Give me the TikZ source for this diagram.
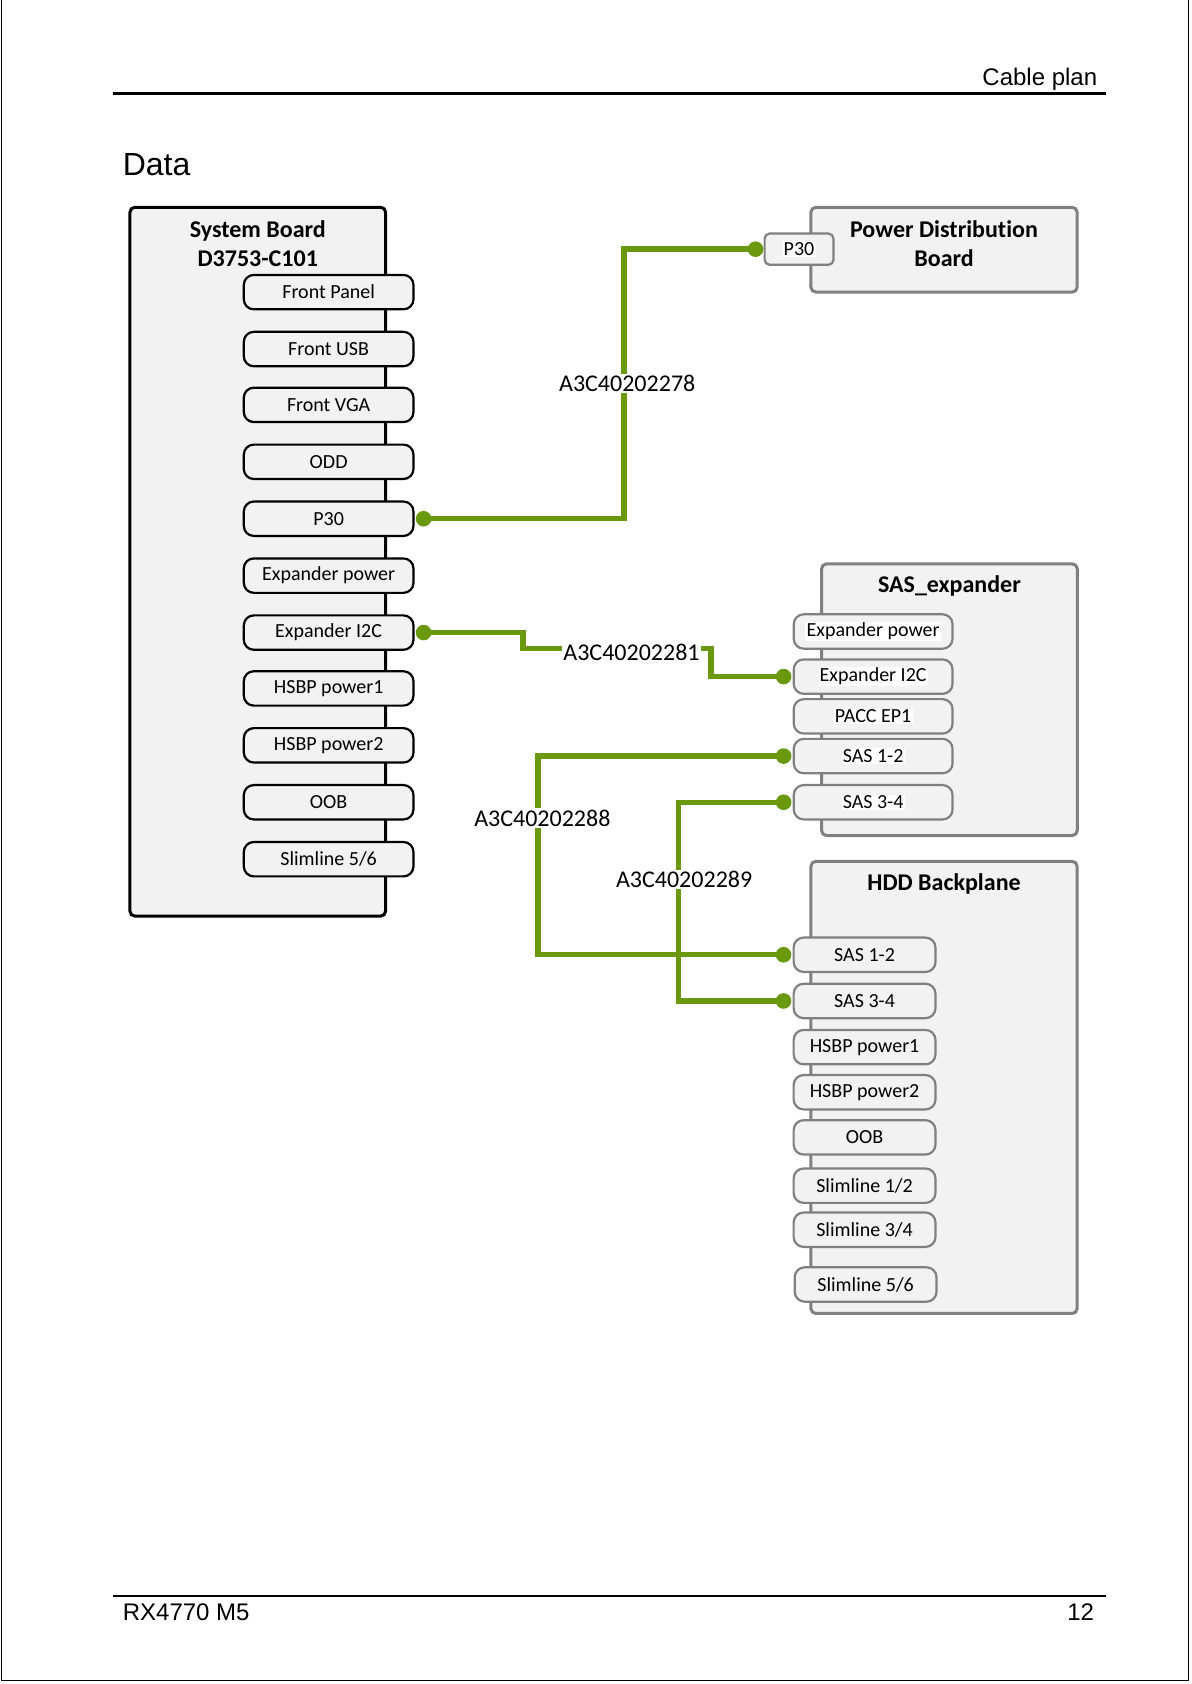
\documentclass[tikz,border=0pt]{standalone}
\usepackage{fontspec}
\setmainfont[Ligatures={NoCommon}]{Carlito}
\newfontfamily\arialf{Liberation Sans}
\usetikzlibrary{calc}
\definecolor{cablegreen}{RGB}{106,153,16}
\definecolor{boxfill}{RGB}{242,242,242}
\definecolor{boxgray}{RGB}{128,128,128}
\newcommand{\wb}[1]{{\setlength{\fboxsep}{0.6pt}\colorbox{white}{#1}}}
\begin{document}
\begin{tikzpicture}[x=0.5368pt,y=-0.5368pt,
  sbbox/.style={draw=black, line width=1.5pt, fill=boxfill, rounded corners=2.5pt, inner sep=0pt},
  rbox/.style={draw=boxgray, line width=1.5pt, fill=boxfill, rounded corners=2.5pt, inner sep=0pt},
  connbase/.style={line width=1.1pt, fill=boxfill, rounded corners=5pt, minimum height=17.2pt, inner sep=0pt, font=\fontsize{10}{11}\selectfont},
  sbconn/.style={connbase, draw=black, minimum width=84.8pt},
  seconn/.style={connbase, draw=boxgray, minimum width=79.4pt},
  hdconn/.style={connbase, draw=boxgray, minimum width=70.9pt},
  boxtitle/.style={font=\bfseries\fontsize{12}{14.5}\selectfont, align=center, inner sep=0pt},
  cable/.style={draw=cablegreen, line width=2.7pt},
  cablelabel/.style={fill=white, inner sep=0.8pt, font=\fontsize{12}{14}\selectfont},
  cabledot/.style={fill=cablegreen},
  pagetext/.style={font=\arialf\fontsize{12}{14}\selectfont, inner sep=0pt}
]
\useasboundingbox (0,0) rectangle (1109,1568);
% page frame
\draw[line width=0.55pt] (1,0) -- (1,1565) -- (1107,1565) -- (1107,0);
% header / footer
\node[pagetext, anchor=base east] (hdr) at (1022,80) {Cable plan};
\draw[line width=1.1pt] (105,87) -- (1030,87);
\node[font=\arialf\fontsize{16}{18}\selectfont, inner sep=0pt, anchor=base west] (data) at (114,163) {Data};
\draw[line width=0.6pt] (105,1486) -- (1030,1486);
\node[pagetext, anchor=base west] (ftl) at (114,1509) {RX4770 M5};
\node[pagetext, anchor=base east] (ftr) at (1019,1509) {12};

% System board
\node[sbbox, minimum width=127.8pt, minimum height=354.3pt] (sb) at (240,523) {};
\node[boxtitle] (sbt) at (240,227) {System Board\\D3753-C101};
\node[sbconn] (sb1) at (306,272) {Front Panel};
\node[sbconn] (sb2) at (306,325) {Front USB};
\node[sbconn] (sb3) at (306,377) {Front VGA};
\node[sbconn] (sb4) at (306,430) {ODD};
\node[sbconn] (sb5) at (306,483) {P30};
\node[sbconn] (sb6) at (306,536) {Expander power};
\node[sbconn] (sb7) at (306,589) {Expander I2C};
\node[sbconn] (sb8) at (306,641) {HSBP power1};
\node[sbconn] (sb9) at (306,694) {HSBP power2};
\node[sbconn] (sb10) at (306,747) {OOB};
\node[sbconn] (sb11) at (306,800) {Slimline 5/6};

% Power distribution board
\node[rbox, minimum width=133.1pt, minimum height=42.4pt] (pdb) at (879,232.5) {};
\node[boxtitle] (pdbt) at (879,227) {Power Distribution\\Board};
\node[connbase, draw=boxgray, minimum width=34.4pt, minimum height=15.6pt, rounded corners=2.5pt] (pdbp30) at (744,232) {\wb{P30}};

% SAS expander
\node[rbox, minimum width=127.8pt, minimum height=135.8pt] (sas) at (884,651.5) {};
\node[boxtitle] (sast) at (884,546) {SAS\_expander};
\node[seconn] (se1) at (813,588) {\wb{Expander power}};
\node[seconn] (se2) at (813,630) {\wb{Expander I2C}};
\node[seconn] (se3) at (813,667) {\wb{PACC EP1}};
\node[seconn] (se4) at (813,704) {\wb{SAS 1-2}};
\node[seconn] (se5) at (813,747) {\wb{SAS 3-4}};

% HDD backplane
\node[rbox, minimum width=133.1pt, minimum height=226.0pt] (hdd) at (879,1012.5) {};
\node[boxtitle] (hddt) at (879,823) {HDD Backplane};
\node[hdconn] (hd1) at (805,889) {SAS 1-2};
\node[hdconn] (hd2) at (805,932) {SAS 3-4};
\node[hdconn] (hd3) at (805,975) {HSBP power1};
\node[hdconn] (hd4) at (805,1017) {HSBP power2};
\node[hdconn] (hd5) at (805,1059) {OOB};
\node[hdconn] (hd6) at (805,1104) {Slimline 1/2};
\node[hdconn] (hd7) at (805,1145) {Slimline 3/4};
\node[hdconn] (hd8) at (806,1196) {Slimline 5/6};

% cable end points
\coordinate (c1a) at ([xshift=4.5pt]sb5.east);
\coordinate (c1b) at ([xshift=-4pt]pdbp30.west);
\coordinate (c2a) at ([xshift=4.5pt]sb7.east);
\coordinate (c2b) at ([xshift=-4.5pt]se2.west);
\coordinate (c3a) at ([xshift=-4.5pt]se4.west);
\coordinate (c3b) at ([xshift=-4.5pt]hd1.west);
\coordinate (c4a) at ([xshift=-4.5pt]se5.west);
\coordinate (c4b) at ([xshift=-4.5pt]hd2.west);

% cables
\draw[cable] (c1a) -| (581,232) -- (c1b);
\draw[cable] (c2a) -| (487,604) -- (662,604) |- (c2b);
\draw[cable] (c4a) -| (632,932) -- (c4b);
\draw[cable] (c3a) -| (501,889) -- (c3b);
\foreach \p in {c1a,c1b,c2a,c2b,c3a,c3b,c4a,c4b} \fill[cabledot] (\p) circle (3.9pt);

% cable labels
\node[cablelabel] (l1) at (584,357) {A3C40202278};
\node[cablelabel] (l2) at (588,607) {A3C40202281};
\node[cablelabel] (l3) at (505,762) {A3C40202288};
\node[cablelabel] (l4) at (637,819) {A3C40202289};
\end{tikzpicture}
\end{document}
